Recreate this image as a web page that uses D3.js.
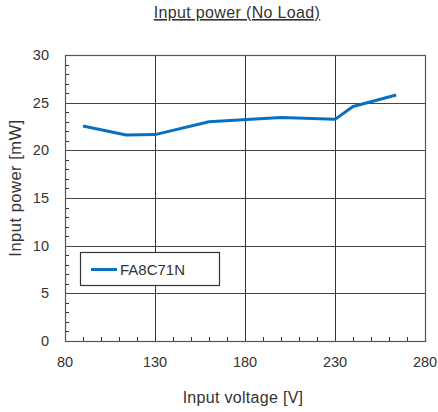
<!DOCTYPE html>
<html>
<head>
<meta charset="utf-8">
<script src="https://cdn.jsdelivr.net/npm/d3@7"></script>
<style>
  body { margin: 0; background: #fff; }
  text { font-family: "Liberation Sans", Arial, sans-serif; fill: #333; }
</style>
</head>
<body>
<div id="body"></div>
<script>
// data
var voltages = [90, 114, 130, 160, 200, 230, 240, 264];
var powers = [22.55, 21.6, 21.65, 23.0, 23.45, 23.25, 24.6, 25.8];
var seriesName = 'FA8C71N';
var xTicks = [80, 130, 180, 230, 280];
var yTicks = [0, 5, 10, 15, 20, 25, 30];

function buildChart () {
  var width = 438, height = 412;
  // plot area edges (note: "top" is reserved on window, so keep these local)
  var pLeft = 65, pRight = 425, pTop = 55, pBottom = 341;

  var svg = d3.select('#body')
    .append('svg')
    .attr('width', width)
    .attr('height', height);

  var x = d3.scaleLinear().domain([80, 280]).range([pLeft, pRight]);
  var y = d3.scaleLinear().domain([0, 30]).range([pBottom, pTop]);

  // grid lines
  svg.append('g').selectAll('line')
    .data(xTicks.slice(1, -1))
    .enter().append('line')
    .attr('x1', function(d) { return Math.round(x(d)) + 0.5; })
    .attr('x2', function(d) { return Math.round(x(d)) + 0.5; })
    .attr('y1', pTop).attr('y2', pBottom)
    .style('stroke', '#333').style('stroke-width', 1);

  svg.append('g').selectAll('line')
    .data(yTicks.slice(1, -1))
    .enter().append('line')
    .attr('x1', pLeft).attr('x2', pRight)
    .attr('y1', function(d) { return Math.round(y(d)) + 0.5; })
    .attr('y2', function(d) { return Math.round(y(d)) + 0.5; })
    .style('stroke', '#444').style('stroke-width', 1);

  // minor ticks, inside, left and bottom only
  svg.append('g').selectAll('line')
    .data(d3.range(1, 30).filter(function(d) { return d % 5 !== 0; }))
    .enter().append('line')
    .attr('x1', pLeft).attr('x2', pLeft + 4)
    .attr('y1', function(d) { return Math.round(y(d)) + 0.5; })
    .attr('y2', function(d) { return Math.round(y(d)) + 0.5; })
    .style('stroke', '#333');

  svg.append('g').selectAll('line')
    .data(d3.range(90, 280, 10).filter(function(d) { return (d - 80) % 50 !== 0; }))
    .enter().append('line')
    .attr('x1', function(d) { return Math.round(x(d)) + 0.5; })
    .attr('x2', function(d) { return Math.round(x(d)) + 0.5; })
    .attr('y1', pBottom).attr('y2', pBottom - 4)
    .style('stroke', '#333');

  // frame
  svg.append('rect')
    .attr('x', pLeft + 0.5).attr('y', pTop + 0.5)
    .attr('width', pRight - pLeft).attr('height', pBottom - pTop)
    .style('fill', 'none').style('stroke', '#555').style('stroke-width', 1.2);

  // tick labels
  svg.append('g').selectAll('text')
    .data(yTicks)
    .enter().append('text')
    .attr('x', 49)
    .attr('y', function(d) { return y(d) + 5; })
    .attr('text-anchor', 'end')
    .style('font-size', '14.5px')
    .text(function(d) { return d; });

  svg.append('g').selectAll('text')
    .data(xTicks)
    .enter().append('text')
    .attr('x', function(d) { return x(d); })
    .attr('y', 367)
    .attr('text-anchor', 'middle')
    .style('font-size', '14.5px')
    .text(function(d) { return d; });

  // axis titles (reference font runs a bit wider than Arial)
  svg.append('text')
    .attr('x', 243).attr('y', 403)
    .attr('text-anchor', 'middle')
    .style('font-size', '16px')
    .style('letter-spacing', '0.3px')
    .text('Input voltage [V]');

  svg.append('text')
    .attr('transform', 'translate(21,188) rotate(-90)')
    .attr('text-anchor', 'middle')
    .style('font-size', '16.5px')
    .style('letter-spacing', '0.5px')
    .text('Input power [mW]');

  // title
  svg.append('text')
    .attr('x', 237).attr('y', 18)
    .attr('text-anchor', 'middle')
    .style('font-size', '16px')
    .style('letter-spacing', '0.35px')
    .style('text-decoration', 'underline')
    .text('Input power (No Load)');

  // data line
  var line = d3.line()
    .x(function(d, i) { return x(voltages[i]); })
    .y(function(d) { return y(d); });

  svg.append('path')
    .datum(powers)
    .attr('d', line)
    .style('fill', 'none')
    .style('stroke', '#0a70bd')
    .style('stroke-width', 3)
    .style('stroke-linejoin', 'round');

  // legend
  var legend = svg.append('g');
  legend.append('rect')
    .attr('x', 80.5).attr('y', 252.5)
    .attr('width', 139).attr('height', 33)
    .style('fill', '#fff').style('stroke', '#333').style('stroke-width', 1.2);
  legend.append('line')
    .attr('x1', 91).attr('x2', 117)
    .attr('y1', 269.5).attr('y2', 269.5)
    .style('stroke', '#0a70bd').style('stroke-width', 3);
  legend.append('text')
    .attr('x', 120).attr('y', 275)
    .style('font-size', '15px')
    .text(seriesName);
}

buildChart();
</script>
</body>
</html>
